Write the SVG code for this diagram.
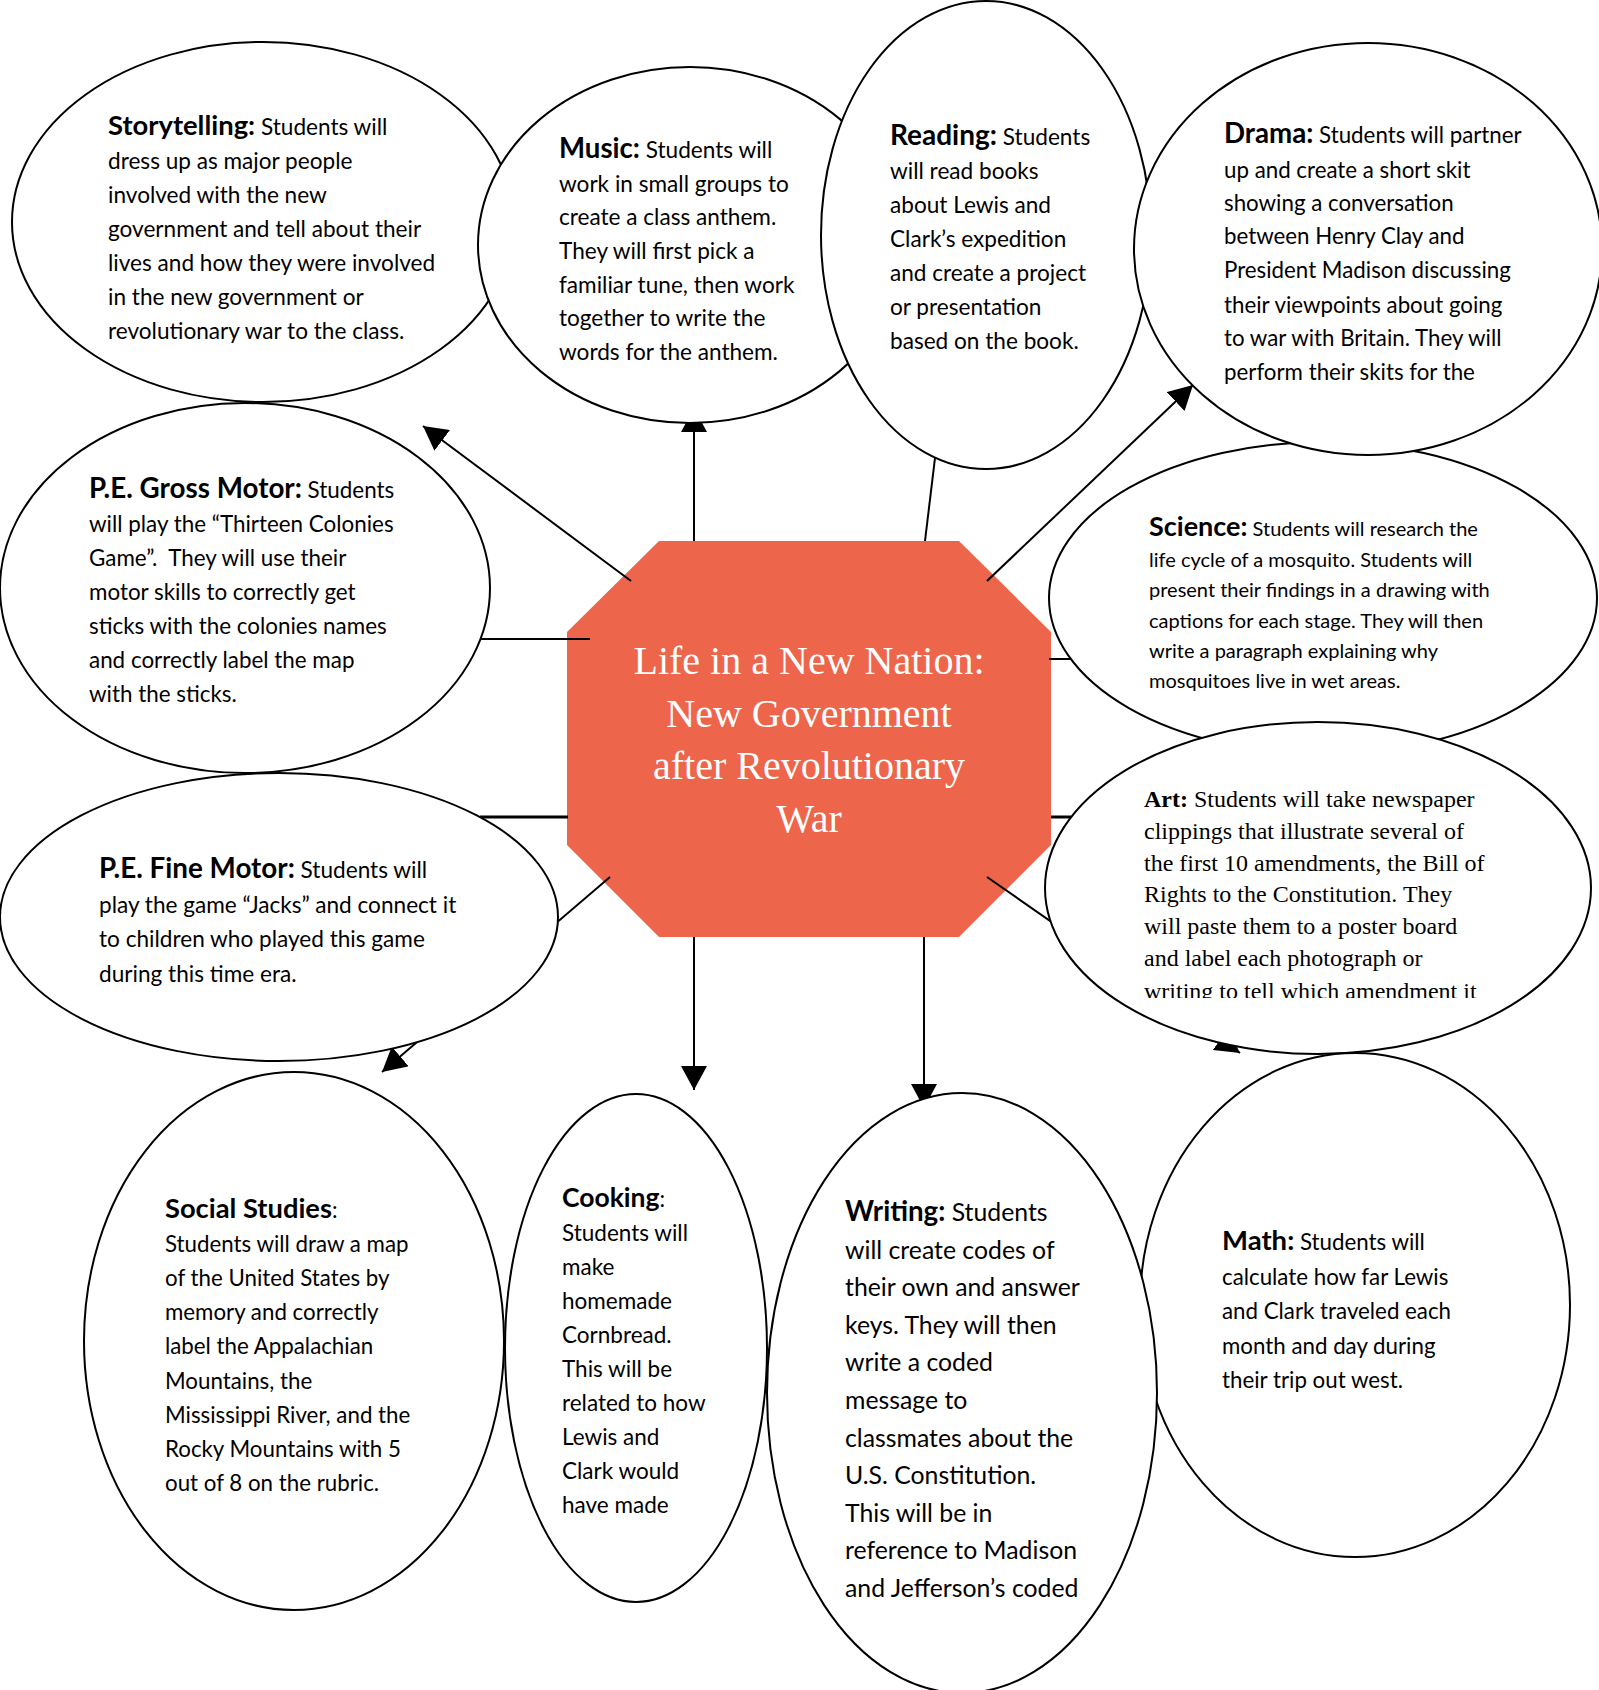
<svg xmlns="http://www.w3.org/2000/svg" width="1599" height="1690" viewBox="0 0 1599 1690">
<defs>
<style>
.node ellipse{fill:#fff;stroke:#000;stroke-width:2}
.t{font-family:Lato,"Open Sans","Liberation Sans",sans-serif;fill:#000}
.s{font-family:"Liberation Serif","Times New Roman",serif;fill:#000}
.b{font-weight:bold}
.conn line{stroke:#000;stroke-width:2;fill:none}
.conn line.thick{stroke-width:3}
.ctitle{font-family:"Liberation Serif","Times New Roman",serif;font-size:40px;fill:#fff;text-anchor:middle}
</style>
<marker id="ah" markerUnits="userSpaceOnUse" viewBox="0 0 24 26" markerWidth="24" markerHeight="26" refX="24" refY="13" orient="auto">
<path d="M0,0 L24,13 L0,26 z" fill="#000"/>
</marker>
<clipPath id="artclip"><rect x="1040" y="720" width="560" height="278"/></clipPath>
</defs>
<rect width="1599" height="1690" fill="#fff"/>

<g id="center">
<polygon points="659,541 959,541 1051,632 1051,845 959,937 659,937 567,845 567,632" fill="#ED654A"/>
<text class="ctitle" x="809" y="674">Life in a New Nation:</text>
<text class="ctitle" x="809" y="727">New Government</text>
<text class="ctitle" x="809" y="779">after Revolutionary</text>
<text class="ctitle" x="809" y="832">War</text>
</g>

<g id="connectors" class="conn">
<line x1="631" y1="581" x2="423" y2="426" marker-end="url(#ah)"/>
<line x1="694" y1="541" x2="694" y2="408" marker-end="url(#ah)"/>
<line x1="925" y1="541" x2="935" y2="458"/>
<line x1="987" y1="581" x2="1193" y2="385" marker-end="url(#ah)"/>
<line x1="481" y1="639" x2="590" y2="639"/>
<line class="thick" x1="480" y1="817" x2="568" y2="817"/>
<line x1="610" y1="877" x2="382" y2="1072" marker-end="url(#ah)"/>
<line x1="694" y1="937" x2="694" y2="1090" marker-end="url(#ah)"/>
<line x1="924" y1="937" x2="924" y2="1108" marker-end="url(#ah)"/>
<line x1="1049" y1="659" x2="1071" y2="659"/>
<line class="thick" x1="1051" y1="817" x2="1071" y2="817"/>
<line x1="987" y1="877" x2="1240" y2="1053" marker-end="url(#ah)"/>
</g>

<g id="storytelling" class="node">
<ellipse cx="263" cy="222" rx="251" ry="180"/>
<g class="t" font-size="22.6">
<text x="108" y="135"><tspan class="b" font-size="27.4">Storytelling:</tspan> Students will</text>
<text x="108" y="169">dress up as major people</text>
<text x="108" y="203">involved with the new</text>
<text x="108" y="237">government and tell about their</text>
<text x="108" y="271">lives and how they were involved</text>
<text x="108" y="305">in the new government or</text>
<text x="108" y="339">revolutionary war to the class.</text>
</g>
</g>

<g id="music" class="node">
<ellipse cx="690" cy="245" rx="212" ry="178"/>
<g class="t" font-size="22.6">
<text x="559" y="158"><tspan class="b" font-size="27.6">Music:</tspan> Students will</text>
<text x="559" y="192">work in small groups to</text>
<text x="559" y="225">create a class anthem.</text>
<text x="559" y="259">They will first pick a</text>
<text x="559" y="293">familiar tune, then work</text>
<text x="559" y="326">together to write the</text>
<text x="559" y="360">words for the anthem.</text>
</g>
</g>

<g id="science" class="node">
<ellipse cx="1323" cy="598" rx="274" ry="156"/>
<g class="t" font-size="20">
<text x="1149" y="536"><tspan class="b" font-size="27">Science:</tspan> Students will research the</text>
<text x="1149" y="567">life cycle of a mosquito. Students will</text>
<text x="1149" y="597">present their findings in a drawing with</text>
<text x="1149" y="628">captions for each stage. They will then</text>
<text x="1149" y="658">write a paragraph explaining why</text>
<text x="1149" y="688">mosquitoes live in wet areas.</text>
</g>
</g>

<g id="reading" class="node">
<ellipse cx="986" cy="235" rx="165" ry="234"/>
<g class="t" font-size="22.6">
<text x="890" y="145"><tspan class="b" font-size="28">Reading:</tspan> Students</text>
<text x="890" y="179">will read books</text>
<text x="890" y="213">about Lewis and</text>
<text x="890" y="247">Clark’s expedition</text>
<text x="890" y="281">and create a project</text>
<text x="890" y="315">or presentation</text>
<text x="890" y="349">based on the book.</text>
</g>
</g>

<g id="drama" class="node">
<ellipse cx="1368" cy="249" rx="234" ry="206"/>
<g class="t" font-size="22.3">
<text x="1224" y="143"><tspan class="b" font-size="27.7">Drama:</tspan> Students will partner</text>
<text x="1224" y="178">up and create a short skit</text>
<text x="1224" y="211">showing a conversation</text>
<text x="1224" y="244">between Henry Clay and</text>
<text x="1224" y="278">President Madison discussing</text>
<text x="1224" y="313">their viewpoints about going</text>
<text x="1224" y="346">to war with Britain. They will</text>
<text x="1224" y="380">perform their skits for the</text>
</g>
</g>

<g id="gross-motor" class="node">
<ellipse cx="245" cy="588" rx="245" ry="185"/>
<g class="t" font-size="22.4">
<text x="89" y="498"><tspan class="b" font-size="27.8">P.E. Gross Motor:</tspan> Students</text>
<text x="89" y="532">will play the “Thirteen Colonies</text>
<text x="89" y="566" xml:space="preserve">Game”.  They will use their</text>
<text x="89" y="600">motor skills to correctly get</text>
<text x="89" y="634">sticks with the colonies names</text>
<text x="89" y="668">and correctly label the map</text>
<text x="89" y="702">with the sticks.</text>
</g>
</g>

<g id="fine-motor" class="node">
<ellipse cx="279" cy="917" rx="279" ry="144"/>
<g class="t" font-size="22.6">
<text x="99" y="878"><tspan class="b" font-size="27.8">P.E. Fine Motor:</tspan> Students will</text>
<text x="99" y="913">play the game “Jacks” and connect it</text>
<text x="99" y="947">to children who played this game</text>
<text x="99" y="982">during this time era.</text>
</g>
</g>

<g id="art" class="node">
<ellipse cx="1318" cy="888" rx="273" ry="166"/>
<g class="s" font-size="24" clip-path="url(#artclip)">
<text x="1144" y="807"><tspan class="b">Art:</tspan> Students will take newspaper</text>
<text x="1144" y="839">clippings that illustrate several of</text>
<text x="1144" y="871">the first 10 amendments, the Bill of</text>
<text x="1144" y="902">Rights to the Constitution. They</text>
<text x="1144" y="934">will paste them to a poster board</text>
<text x="1144" y="966">and label each photograph or</text>
<text x="1144" y="999">writing to tell which amendment it</text>
</g>
</g>

<g id="social-studies" class="node">
<ellipse cx="294" cy="1341" rx="210" ry="269"/>
<g class="t" font-size="22.3">
<text x="165" y="1218"><tspan class="b" font-size="27.3">Social Studies</tspan>:</text>
<text x="165" y="1252">Students will draw a map</text>
<text x="165" y="1286">of the United States by</text>
<text x="165" y="1320">memory and correctly</text>
<text x="165" y="1354">label the Appalachian</text>
<text x="165" y="1389">Mountains, the</text>
<text x="165" y="1423">Mississippi River, and the</text>
<text x="165" y="1457">Rocky Mountains with 5</text>
<text x="165" y="1491">out of 8 on the rubric.</text>
</g>
</g>

<g id="cooking" class="node">
<ellipse cx="636" cy="1348" rx="131" ry="254"/>
<g class="t" font-size="22.5">
<text x="562" y="1207"><tspan class="b" font-size="26.5">Cooking</tspan>:</text>
<text x="562" y="1241">Students will</text>
<text x="562" y="1275">make</text>
<text x="562" y="1309">homemade</text>
<text x="562" y="1343">Cornbread.</text>
<text x="562" y="1377">This will be</text>
<text x="562" y="1411">related to how</text>
<text x="562" y="1445">Lewis and</text>
<text x="562" y="1479">Clark would</text>
<text x="562" y="1513">have made</text>
</g>
</g>

<g id="math" class="node">
<ellipse cx="1355" cy="1305" rx="215" ry="252"/>
<g class="t" font-size="22.3">
<text x="1222" y="1250"><tspan class="b" font-size="27.5">Math:</tspan> Students will</text>
<text x="1222" y="1285">calculate how far Lewis</text>
<text x="1222" y="1319">and Clark traveled each</text>
<text x="1222" y="1354">month and day during</text>
<text x="1222" y="1388">their trip out west.</text>
</g>
</g>

<g id="writing" class="node">
<ellipse cx="962" cy="1393" rx="195" ry="300"/>
<g class="t" font-size="24.8">
<text x="845" y="1221"><tspan class="b" font-size="27.7">Writing:</tspan> Students</text>
<text x="845" y="1259">will create codes of</text>
<text x="845" y="1296">their own and answer</text>
<text x="845" y="1334">keys. They will then</text>
<text x="845" y="1371">write a coded</text>
<text x="845" y="1409">message to</text>
<text x="845" y="1447">classmates about the</text>
<text x="845" y="1484">U.S. Constitution.</text>
<text x="845" y="1522">This will be in</text>
<text x="845" y="1559">reference to Madison</text>
<text x="845" y="1597">and Jefferson’s coded</text>
</g>
</g>
</svg>
